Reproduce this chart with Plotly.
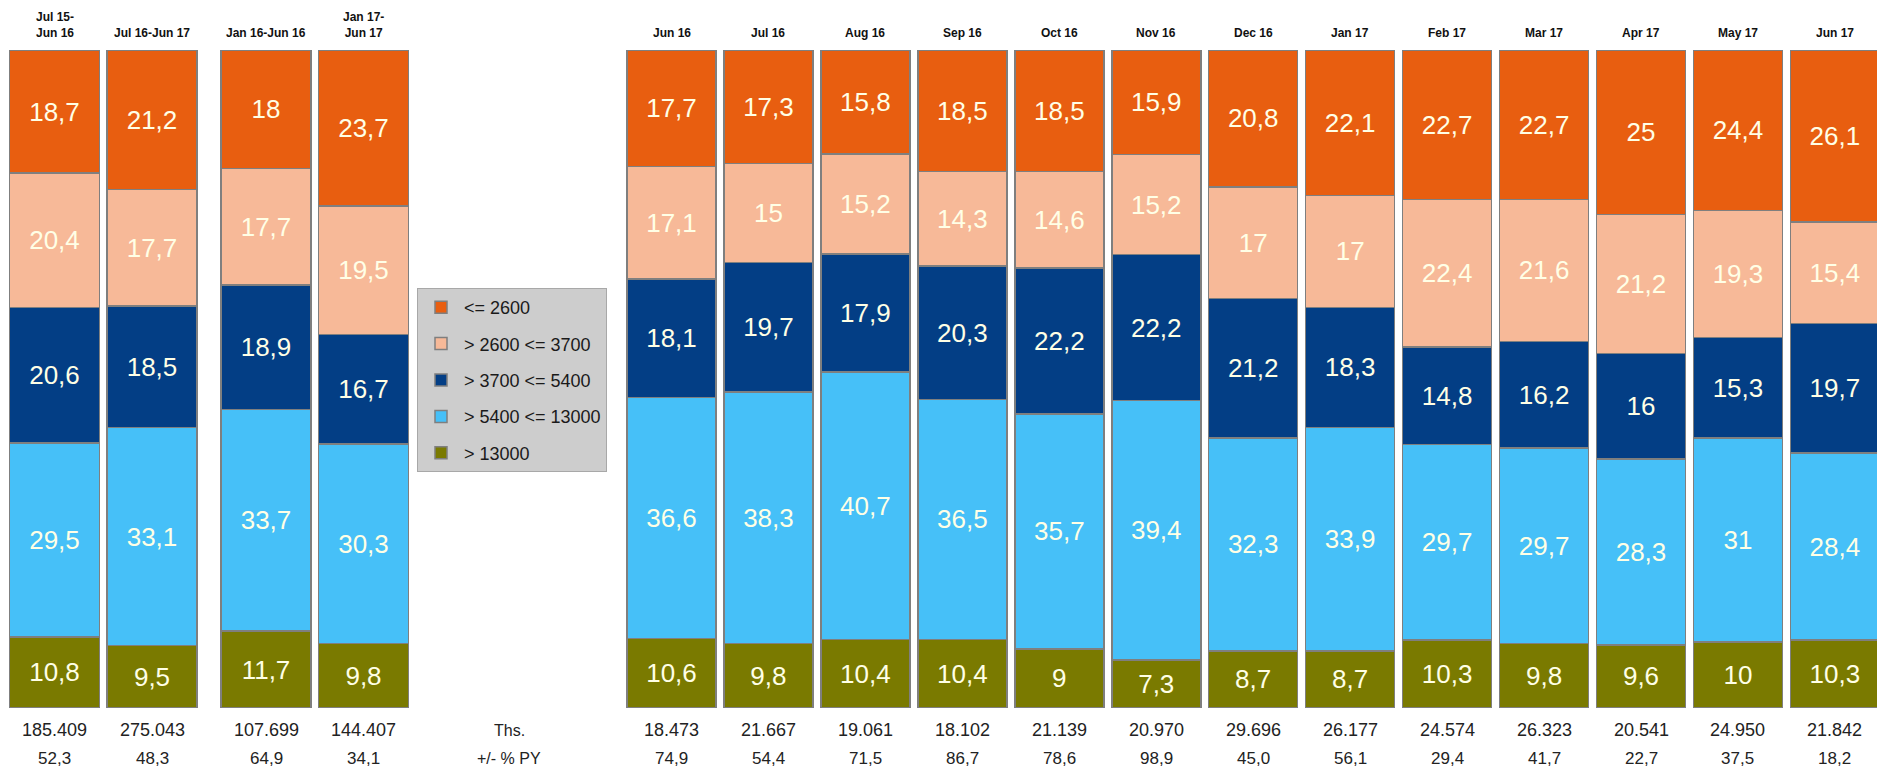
import plotly.graph_objects as go

# ---------------- data ----------------
categories = ["Jul 15-<br>Jun 16", "Jul 16-Jun 17", "Jan 16-Jun 16", "Jan 17-<br>Jun 17",
              "Jun 16", "Jul 16", "Aug 16", "Sep 16", "Oct 16", "Nov 16", "Dec 16",
              "Jan 17", "Feb 17", "Mar 17", "Apr 17", "May 17", "Jun 17"]

series_names = ["<= 2600", "> 2600 <= 3700", "> 3700 <= 5400", "> 5400 <= 13000", "> 13000"]

s_le2600 = [18.7, 21.2, 18, 23.7, 17.7, 17.3, 15.8, 18.5, 18.5, 15.9, 20.8, 22.1, 22.7, 22.7, 25, 24.4, 26.1]
s_2600_3700 = [20.4, 17.7, 17.7, 19.5, 17.1, 15, 15.2, 14.3, 14.6, 15.2, 17, 17, 22.4, 21.6, 21.2, 19.3, 15.4]
s_3700_5400 = [20.6, 18.5, 18.9, 16.7, 18.1, 19.7, 17.9, 20.3, 22.2, 22.2, 21.2, 18.3, 14.8, 16.2, 16, 15.3, 19.7]
s_5400_13000 = [29.5, 33.1, 33.7, 30.3, 36.6, 38.3, 40.7, 36.5, 35.7, 39.4, 32.3, 33.9, 29.7, 29.7, 28.3, 31, 28.4]
s_gt13000 = [10.8, 9.5, 11.7, 9.8, 10.6, 9.8, 10.4, 10.4, 9, 7.3, 8.7, 8.7, 10.3, 9.8, 9.6, 10, 10.3]

totals_ths = [185409, 275043, 107699, 144407, 18473, 21667, 19061, 18102, 21139, 20970,
              29696, 26177, 24574, 26323, 20541, 24950, 21842]
change_pct_py = [52.3, 48.3, 64.9, 34.1, 74.9, 54.4, 71.5, 86.7, 78.6, 98.9, 45.0,
                 56.1, 29.4, 41.7, 22.7, 37.5, 18.2]

row_label_totals = "Ths."
row_label_change = "+/- % PY"

# ---------------- layout helpers ----------------
W, H = 1877, 769
TOP, BOTTOM = 50, 708
PLOT_H = BOTTOM - TOP

def py(pixel_y):
    return (BOTTOM - pixel_y) / PLOT_H

# bar centres (x axis in pixel units)
left_pitch, left_w = 97.5, 90
month_pitch, month_w = 96.95, 89
xpos, widths = [], []
for i in range(4):
    base = 54.5 if i < 2 else 266
    xpos.append(base + left_pitch * (i % 2))
    widths.append(left_w)
for i in range(len(categories) - 4):
    xpos.append(671.5 + month_pitch * i)
    widths.append(month_w)

colors = ["#E85E10", "#F7B998", "#033E85", "#46C0F8", "#7A7A00"]
stack = [s_le2600, s_2600_3700, s_3700_5400, s_5400_13000, s_gt13000]

def fmt(v):
    return f"{v:g}".replace(".", ",")

FONT = "Liberation Sans, Arial"

fig = go.Figure()
# bottom-up stacking order
for k in [4, 3, 2, 1, 0]:
    vals = stack[k]
    fig.add_trace(go.Bar(
        x=xpos, y=vals, width=widths, name=series_names[k],
        legendgroup=f"g{k}", legendrank=k + 1,
        marker=dict(color=colors[k], line=dict(color="#7f7f7f", width=1.5)),
        text=[fmt(v) for v in vals], textposition="inside",
        insidetextanchor="middle", textangle=0, constraintext="none",
        insidetextfont=dict(family=FONT, size=26, color="#FFFFE6"),
        hoverinfo="skip",
    ))

annotations = []
for x, c in zip(xpos, categories):
    two = "<br>" in c
    annotations.append(dict(
        x=x, y=py(25 if two else 33), xref="x", yref="paper", text=c, showarrow=False,
        font=dict(family=FONT, size=12, color="#111111", weight="bold"),
        yanchor="middle", xanchor="center"))
for x, t, p in zip(xpos, totals_ths, change_pct_py):
    annotations.append(dict(
        x=x, y=py(730), xref="x", yref="paper", text=f"{t:,}".replace(",", "."),
        showarrow=False, font=dict(family=FONT, size=18, color="#222222"),
        yanchor="middle", xanchor="center"))
    annotations.append(dict(
        x=x, y=py(758), xref="x", yref="paper", text=f"{p:.1f}".replace(".", ","),
        showarrow=False, font=dict(family=FONT, size=17, color="#222222"),
        yanchor="middle", xanchor="center"))
annotations.append(dict(x=509, y=py(730), xref="x", yref="paper", text=row_label_totals,
                        yanchor="middle", xanchor="center",
                        showarrow=False, font=dict(family=FONT, size=16, color="#222222")))
annotations.append(dict(x=509, y=py(758), xref="x", yref="paper", text=row_label_change,
                        yanchor="middle", xanchor="center",
                        showarrow=False, font=dict(family=FONT, size=16, color="#222222")))

fig.update_layout(
    width=W, height=H,
    margin=dict(l=0, r=0, t=TOP, b=H - BOTTOM),
    barmode="stack", barnorm="percent",
    plot_bgcolor="white", paper_bgcolor="white",
    xaxis=dict(range=[0, W], visible=False, fixedrange=True),
    yaxis=dict(range=[0, 100], visible=False, fixedrange=True),
    showlegend=True,
    legend=dict(
        x=417 / W, y=py(288), xanchor="left", yanchor="top",
        bgcolor="#CDCDCD", bordercolor="#a8a8a8", borderwidth=1,
        font=dict(family=FONT, size=18, color="#1a1a1a"),
        traceorder="grouped", tracegroupgap=10,
        itemwidth=36,
    ),
    annotations=annotations,
)

fig.write_html("out.html", config={"displayModeBar": False},
               post_script="document.body.style.margin='0';document.body.style.padding='0';")
